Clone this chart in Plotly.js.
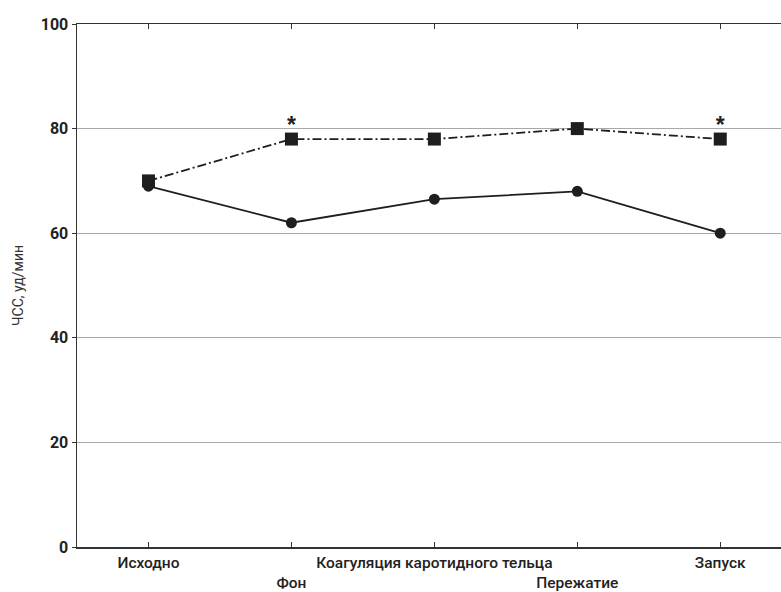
<!DOCTYPE html>
<html>
<head>
<meta charset="utf-8">
<script src="https://cdn.plot.ly/plotly-3.0.1.min.js"></script>
<style>html,body{margin:0;padding:0;background:#fff;}#chart{width:781px;height:592px;}</style>
</head>
<body>
<div id="chart"></div>
<script>
const categories = ["Исходно", "Фон", "Коагуляция каротидного тельца", "Пережатие", "Запуск"];
const tickLabels = ["Исходно", "<br>Фон", "Коагуляция каротидного тельца", "<br>Пережатие", "Запуск"];
const seriesDashed = [70, 78, 78, 80, 78];
const seriesSolid = [69, 62, 66.5, 68, 60];
const significant = [false, true, false, false, true];
const yTicks = [0, 20, 40, 60, 80, 100];

const xIdx = categories.map((c, i) => i);
const FONT = "Roboto, 'Liberation Sans', sans-serif";

const starX = xIdx.filter((i) => significant[i]);
const starY = starX.map((i) => seriesDashed[i]);

const traces = [
  {
    x: xIdx, y: seriesSolid, type: "scatter", mode: "lines+markers",
    line: {color: "#1e1e1e", width: 1.8},
    marker: {symbol: "circle", size: 11, color: "#1e1e1e"},
    hoverinfo: "skip", showlegend: false
  },
  {
    x: xIdx, y: seriesDashed, type: "scatter", mode: "lines+markers",
    line: {color: "#1e1e1e", width: 1.8, dash: "9px,3px,2px,3px"},
    marker: {symbol: "square", size: 13, color: "#1e1e1e"},
    hoverinfo: "skip", showlegend: false
  },
  {
    x: starX, y: starY, type: "scatter", mode: "text",
    text: starX.map(() => "*"), textposition: "top center",
    textfont: {family: "'Liberation Sans', sans-serif", size: 23, weight: 700, color: "#222"},
    hoverinfo: "skip", showlegend: false
  }
];

const layout = {
  width: 781, height: 592,
  margin: {l: 77, r: 0, t: 24, b: 45},
  paper_bgcolor: "#fff", plot_bgcolor: "#fff",
  xaxis: {
    range: [-0.5, 4.425],
    tickmode: "array", tickvals: xIdx, ticktext: tickLabels, tickangle: 0,
    ticks: "inside", ticklen: 5, tickcolor: "#333", tickwidth: 1,
    ticklabelstandoff: 1,
    showline: true, linecolor: "#333", linewidth: 1.5, mirror: "ticks",
    showgrid: false, zeroline: false,
    tickfont: {family: FONT, size: 15.5, weight: 500, color: "#222"}
  },
  yaxis: {
    range: [0, 100],
    tickmode: "array", tickvals: yTicks,
    ticks: "outside", ticklen: 4, tickcolor: "#333",
    showline: true, linecolor: "#333", linewidth: 1.5, mirror: true,
    showgrid: true, gridcolor: "#a8a8a8", gridwidth: 1, zeroline: false,
    tickfont: {family: FONT, size: 16, weight: 700, color: "#222"},
    title: {text: "ЧСС, уд/мин", font: {family: FONT, size: 14, color: "#333"}, standoff: 14}
  },
  font: {family: FONT}
};

Plotly.newPlot("chart", traces, layout, {displayModeBar: false, staticPlot: true});
</script>
</body>
</html>
